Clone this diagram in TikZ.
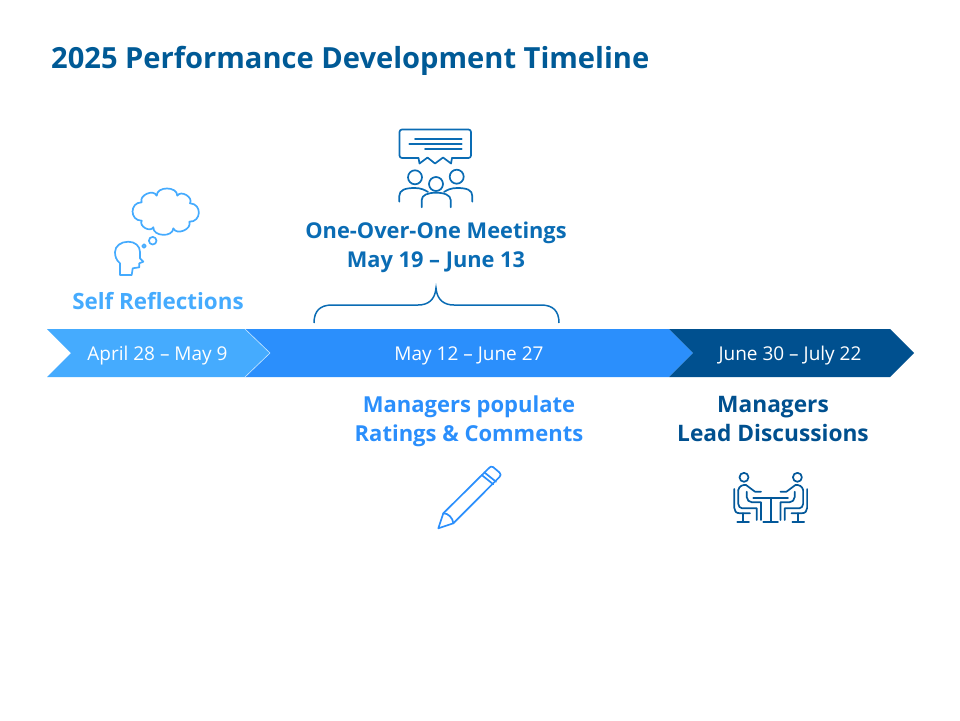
\documentclass[tikz,border=0pt]{standalone}
\usepackage{fontspec}
\setmainfont{Open Sans}
\usetikzlibrary{positioning}
\definecolor{lightblue}{HTML}{45ABFE}
\definecolor{midblue}{HTML}{2B8FFC}
\definecolor{darkblue}{HTML}{00508F}
\definecolor{titleblue}{HTML}{005A96}
\definecolor{meetblue}{HTML}{0A6CB4}

\begin{document}
\begin{tikzpicture}[x=1pt, y=-1pt]
  \newcommand\rowtop{329}
  \newcommand\rowmid{353}
  \newcommand\rowbot{377}

  \tikzset{heading/.style={inner sep=0pt, align=center, font=\bfseries\fontsize{#1}{29}\selectfont}}
  \tikzset{dates/.style={inner sep=0pt, text=white, font=\fontsize{19}{23}\selectfont}}
  \tikzset{icon/.style={line width=1.7pt, line join=round, line cap=round, fill=none}}

  \useasboundingbox (0, 0) rectangle (960, 720);

  \node[inner sep=0pt, anchor=west, text=titleblue, font=\bfseries\fontsize{29.1}{34}\selectfont] at (51, 60.5) (title) {2025 Performance Development Timeline};

  % timeline
  \fill[midblue] (245, \rowtop) -- (669, \rowtop) -- (693, \rowmid) -- (669, \rowbot) -- (245, \rowbot) -- (270, \rowmid) -- cycle;
  \fill[darkblue] (669, \rowtop) -- (890, \rowtop) -- (914, \rowmid) -- (890, \rowbot) -- (669, \rowbot) -- (693, \rowmid) -- cycle;
  \fill[lightblue] (47, \rowtop) -- (245, \rowtop) -- (270, \rowmid) -- (245, \rowbot) -- (47, \rowbot) -- (71, \rowmid) -- cycle;
  \draw[white!70!lightblue, line width=0.6pt] (245, \rowtop) -- (270, \rowmid) -- (245, \rowbot);

  \foreach \name/\x/\when in {first/157.5/April 28 – May 9, second/469/May 12 – June 27, third/790/June 30 – July 22}{
    \node[dates] at (\x, 355.5) (\name) {\when};
  }

  % labels
  \node[heading=22.4, text=lightblue] at (158, 301.5) (self) {Self Reflections};
  \node[heading=21.8, text=meetblue] at (436, 247) (meet) {One-Over-One Meetings\\May 19 – June 13};
  \node[heading=22, text=midblue] at (469, 421.5) (populate) {Managers populate\\Ratings \& Comments};
  \node[heading=22.7, text=darkblue] at (773, 419) (lead) {Managers\\Lead Discussions};

  % brace
  \draw[meetblue, line width=1.5pt] (314, 323) .. controls (314, 311) and (320, 305) .. (332, 305) -- (418, 305) .. controls (428, 305) and (435, 300) .. (436, 288) .. controls (437, 300) and (444, 305) .. (454, 305) -- (541, 305) .. controls (553, 305) and (559, 311) .. (559, 323);

  % meeting icon
  \begin{scope}[icon, draw=meetblue]
    \draw[rounded corners=2.5pt] (418.5, 158) -- (399.5, 158) -- (399.5, 129.5) -- (471, 129.5) -- (471, 158) -- (452, 158);
    \draw (418.5, 158) -- (419.5, 163.5) -- (427.5, 157.5) -- (435, 163.5) -- (443, 157.5) -- (451, 163.5) -- (452, 158);
    \foreach \xa/\xb/\y in {415/461.7/139, 409.3/461.7/143.7, 425/461.7/148.7}{
      \draw (\xa, \y) -- (\xb, \y);
    }
    \foreach \x/\y in {415/177.3, 456.7/176.7, 436/184}{
      \draw (\x, \y) circle (7);
    }
    \draw (399.3, 201.7) -- (399.3, 196) .. controls (399.3, 190) and (405, 188) .. (415, 188) .. controls (421, 188) and (425, 190) .. (428, 192);
    \draw (472.3, 201.7) -- (472.3, 196) .. controls (472.3, 190) and (467, 188) .. (457, 188) .. controls (451, 188) and (447, 190) .. (444, 192);
    \draw (421.7, 207.3) -- (421.7, 200) .. controls (421.7, 195) and (428, 192.7) .. (436, 192.7) .. controls (444, 192.7) and (450.7, 195) .. (450.7, 200) -- (450.7, 207.3);
  \end{scope}

  % thought icon
  \begin{scope}[icon, draw=lightblue]
    \draw (141.7, 220.7) to[bend left=90, looseness=1.7] (141.7, 202.3) to[bend left=90, looseness=1.2] (156.7, 195.7) to[bend left=90, looseness=1.2] (177.3, 195.7) to[bend left=90, looseness=1.2] (190, 203.3) to[bend left=90, looseness=1.7] (189.3, 221.7) to[bend left=90, looseness=1.2] (173.3, 228.3) to[bend left=90, looseness=1.2] (153.3, 227.3) to[bend left=90, looseness=1.2] cycle;
    \draw (152.7, 240.7) circle (3.8);
    \draw (144, 246) circle (1.8);
    \draw (120, 275) -- (120, 263.3) .. controls (116, 260) and (115, 256) .. (115, 252) .. controls (115, 246) and (121, 241.7) .. (128.3, 241.7) .. controls (135, 241.7) and (140, 246) .. (140, 252) -- (140, 258.3) -- (143.3, 261.7) -- (139.3, 263.3) -- (139.3, 267.3) -- (132.7, 268.3) -- (131.7, 275) -- cycle;
  \end{scope}

  % pencil icon
  \begin{scope}[icon, draw=midblue]
    \draw (438.3, 528.3) -- (443.3, 513.3) -- (488, 469) .. controls (490, 466.5) and (491.5, 466) .. (493, 467) -- (499.5, 472.5) .. controls (501, 474) and (501, 475.5) .. (499.5, 477) -- (453.3, 523.3) -- cycle;
    \draw (443.3, 513.3) .. controls (448, 513) and (453, 518) .. (453.3, 523.3);
    \draw (481.7, 475) -- (493.3, 484.3);
    \draw (484.3, 472.3) -- (496, 481.7);
  \end{scope}

  % discussion icon
  \begin{scope}[icon, draw=darkblue!70!meetblue]
    \draw (753.3, 497.7) -- (788, 497.7);
    \draw (770.7, 497.7) -- (770.7, 521.7);
    \draw (763.3, 521.7) -- (778, 521.7);
    \foreach \flip/\shift in {1/0, -1/1541.4}{
      \begin{scope}[xshift=\shift, xscale=\flip]
        \draw (744, 477.3) circle (4.5);
        \draw (734.3, 489) -- (734.3, 508) .. controls (734.3, 511) and (736, 513.3) .. (740, 513.3) -- (750, 513.3);
        \draw (743.3, 521.7) -- (743.3, 513.3);
        \draw (737.3, 521.7) -- (749, 521.7);
        \draw (738.3, 490) -- (738.3, 504) .. controls (738.3, 506) and (740, 508.3) .. (742, 508.3) -- (756.7, 508.3) -- (756.7, 520);
        \draw (738.3, 490) .. controls (739, 486) and (743, 484.5) .. (746, 485) -- (755, 491.7) -- (761, 491.7);
        \draw (746.7, 491.7) -- (746.7, 497) .. controls (747, 500) and (749, 502.3) .. (752, 502.3) -- (761, 502.3) -- (761, 520);
      \end{scope}
    }
  \end{scope}
\end{tikzpicture}
\end{document}
